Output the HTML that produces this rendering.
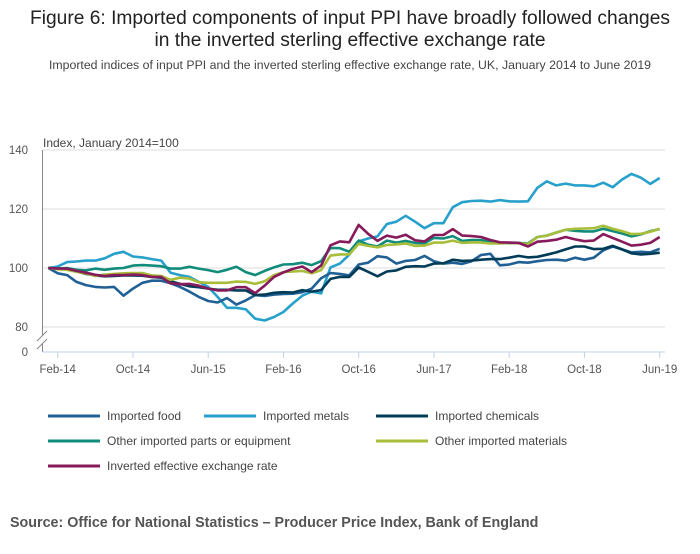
<!DOCTYPE html>
<html><head><meta charset="utf-8"><style>
body{margin:0;background:#fff;font-family:"Liberation Sans",sans-serif}
svg text{font-family:"Liberation Sans",sans-serif}
</style></head><body>
<svg id="chart" width="700" height="549" xmlns="http://www.w3.org/2000/svg">
<text x="350" y="24" text-anchor="middle" font-size="19.2" fill="#222">Figure 6: Imported components of input PPI have broadly followed changes</text>
<text x="350" y="46" text-anchor="middle" font-size="19.2" fill="#222">in the inverted sterling effective exchange rate</text>
<text x="350" y="69" text-anchor="middle" font-size="12.3" fill="#444">Imported indices of input PPI and the inverted sterling effective exchange rate, UK, January 2014 to June 2019</text>
<text x="43" y="147" font-size="12" fill="#444">Index, January 2014=100</text>
<g id="grid"></g><g id="axes"></g><g id="lines"></g><g id="legend"></g>
<text x="10" y="527" font-size="14.3" font-weight="bold" fill="#555">Source: Office for National Statistics – Producer Price Index, Bank of England</text>
</svg>
<script>
const NS="http://www.w3.org/2000/svg";
const yTicks=[80,100,120,140];
const xTickLabels=["Feb-14","Oct-14","Jun-15","Feb-16","Oct-16","Jun-17","Feb-18","Oct-18","Jun-19"];
const xTickIdx=[1,9,17,25,33,41,49,57,65];
const food=[100,98.2,97.6,95.3,94.2,93.6,93.4,93.6,90.6,93,95,95.7,95.7,94.8,93.6,92,90.2,88.8,88.3,89.8,87.6,89,90.8,90.5,91,91.2,91.3,91.8,93,96.5,98.3,98,97.5,101.2,101.8,104,103.6,101.5,102.4,102.7,104.1,102.3,101.5,101.8,101.4,102.3,104.4,104.8,100.9,101.2,102,101.8,102.3,102.7,102.8,102.5,103.5,102.8,103.5,106,107.3,106.3,105.3,105.5,105.3,106.5];
const metals=[100,100.5,102,102.2,102.5,102.5,103.3,104.8,105.5,103.9,103.6,103,102.5,98.4,97.6,97,95.3,93.6,90.2,86.5,86.5,86,82.8,82.2,83.4,85.1,88,90.6,92,91.4,100.2,101.5,104.5,109,110,110.7,114.9,115.7,117.7,115.7,113.5,115.2,115.2,120.6,122.3,122.7,122.8,122.5,123,122.6,122.5,122.6,127.2,129.4,128,128.6,128,128,127.7,128.9,127.4,130,131.9,130.6,128.5,130.5];
const chemicals=[100,99.8,99.6,98.8,98,97.5,97.2,97.3,97.5,97.5,97.4,97,96.7,95.5,94.6,93.8,93.5,93,92.6,92.6,92.4,92.4,90.8,91,91.6,91.8,91.7,92.5,92,92.5,96.3,97,97,100.2,98.7,97.2,98.8,99.2,100.4,100.6,100.5,101.5,101.6,102.8,102.4,102.5,102.8,103,103,103.5,104.1,103.6,103.8,104.5,105.3,106.3,107.3,107.3,106.4,106.5,107.5,106.3,105,104.6,104.8,105.2];
const parts=[100,99.8,100,99.4,99.2,99.8,99.4,99.8,100,100.8,101,100.8,100.6,99.8,99.8,100.4,99.8,99.3,98.6,99.4,100.4,98.6,97.6,99,100.2,101.2,101.3,101.8,101,102.3,106.8,106.7,105.5,109.3,107.9,107.3,109.3,108.6,109.2,108.5,108.4,110.2,110,110.8,109.2,109.5,109.5,108.8,108.5,108.4,108.5,108.3,110.5,111,112,113,112.6,112.4,112.4,113.3,112.5,111.7,110.7,111.4,112.5,113.2];
const materials=[100,99.6,99.4,98.7,98.2,97.3,97.8,98,98.2,98.3,98.3,97.5,97.3,96,96.7,96.4,95.2,95,95,95,95.4,95.3,94.6,95.5,97.6,98.6,98.8,99,98.2,99.3,104.2,104.6,104.6,108.2,107.5,107,107.8,108,108.3,107.5,107.6,108.6,108.6,109.3,108.5,108.7,108.6,108.3,108.3,108.5,108.4,108.1,110.5,111,112,113,113.3,113.4,113.5,114.3,113.3,112.5,111.5,111.6,112.3,113.3];
const eer=[100,99.8,99.8,99,98.4,97.7,97.3,97.6,97.6,97.8,97.6,97,97,94.8,94.5,94.6,94,93,92.4,92.4,93.5,93.5,91.5,94,97,98.5,99.7,100.5,98.6,100.8,107.7,109,108.7,114.6,111.6,109.2,111,110.3,111.3,109.4,109,111.2,111.2,113.2,111,110.8,110.5,109.5,108.7,108.6,108.5,107.3,108.9,109.2,109.6,110.5,109.7,109.1,109.3,111.5,110.2,108.9,107.6,107.9,108.5,110.5];
const seriesNames=["Imported food","Imported metals","Imported chemicals","Other imported parts or equipment","Other imported materials","Inverted effective exchange rate"];
const seriesData=[food,metals,chemicals,parts,materials,eer];
const colors=["#206095","#27a0cc","#003c57","#118c7b","#a8bd3a","#871a5b"];
const drawOrder=[1,0,2,3,4,5];
const x=i=>48.3+i*9.406;
const y=v=>268-(v-100)*2.95;
function mk(tag,attrs,parent){const e=document.createElementNS(NS,tag);for(const k in attrs)e.setAttribute(k,attrs[k]);parent.appendChild(e);return e;}
const grid=document.getElementById('grid'),axes=document.getElementById('axes'),lines=document.getElementById('lines'),legend=document.getElementById('legend');
yTicks.forEach(t=>{
 const l=mk('line',{x1:43,x2:665,y1:y(t),y2:y(t),stroke:'#dcdcdc','stroke-width':1},grid);
 
 
 const tx=mk('text',{x:28,y:y(t)+4,'text-anchor':'end','font-size':11.5,fill:'#555'},axes);tx.textContent=t;
 
 
});
const z=mk('text',{x:28,y:356,'text-anchor':'end','font-size':11.5,fill:'#555'},axes);z.textContent='0';


const ya=mk('path',{d:'M42.5 150 V336 M42.5 344 V352',stroke:'#888',fill:'none','stroke-width':1},axes);


const br=mk('path',{d:'M37 341 L47 331 M37 349 L47 339',stroke:'#888',fill:'none','stroke-width':1},axes);


const xa=mk('line',{x1:42.5,x2:665,y1:352,y2:352,stroke:'#c0d0e8','stroke-width':1},axes);


xTickIdx.forEach((ti,k)=>{
 const tk=mk('line',{x1:x(ti),x2:x(ti),y1:352,y2:358,stroke:'#c0d0e8'},axes);
 
 
 const tx=mk('text',{x:x(ti),y:373,'text-anchor':'middle','font-size':11.5,fill:'#555'},axes);tx.textContent=xTickLabels[k];
 
 
});
drawOrder.forEach(s=>{
 const d=seriesData[s].map((v,i)=>(i?'L':'M')+x(i).toFixed(1)+' '+y(v).toFixed(1)).join(' ');
 const p=mk('path',{d:d,stroke:colors[s],fill:'none','stroke-width':2.6,'stroke-linejoin':'round'},lines);
 
 
});
const legX=[48,204,376,48,376,48],legY=[416,416,416,441,441,466];
seriesNames.forEach((n,s)=>{
 const cx=legX[s],cy=legY[s];
 const g=mk('g',{},legend);
 
 
 mk('line',{x1:cx,x2:cx+52,y1:cy,y2:cy,stroke:colors[s],'stroke-width':3},g);
 const t=mk('text',{x:cx+59,y:cy+4,'font-size':12,fill:'#444'},g);t.textContent=n;
});
</script>
</body></html>
